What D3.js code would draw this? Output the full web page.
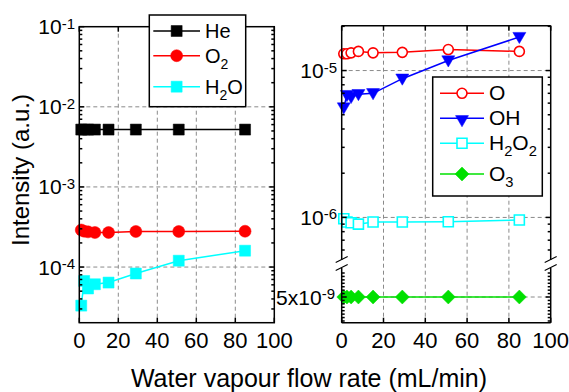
<!DOCTYPE html>
<html>
<head>
<meta charset="utf-8">
<script src="https://cdn.jsdelivr.net/npm/d3@7/dist/d3.min.js"></script>
<style>
  body { margin: 0; background: #fff; }
  svg { display: block; font-family: "Liberation Sans", Arial, sans-serif; }
</style>
</head>
<body>
<svg id="chart" width="569" height="392"></svg>
<script>
// flow rates shared by every series (mL/min)
const flowRate = [1, 2.5, 4.5, 8, 15, 29, 51, 85];

// left panel
const heVals  = [5.2e-3, 5.2e-3, 5.2e-3, 5.2e-3, 5.2e-3, 5.2e-3, 5.2e-3, 5.2e-3];
const o2Vals  = [2.9e-4, 2.8e-4, 2.75e-4, 2.7e-4, 2.7e-4, 2.78e-4, 2.78e-4, 2.8e-4];
const h2oVals = [3.3e-5, 6.7e-5, 5.4e-5, 6.1e-5, 6.4e-5, 8.3e-5, 1.2e-4, 1.6e-4];

// right panel
const oVals    = [1.3e-5, 1.3e-5, 1.32e-5, 1.35e-5, 1.32e-5, 1.33e-5, 1.39e-5, 1.35e-5];
const ohVals   = [5.6e-6, 6.8e-6, 6.6e-6, 6.9e-6, 7.0e-6, 8.8e-6, 1.17e-5, 1.69e-5];
const h2o2Vals = [0.98e-6, 0.93e-6, 0.92e-6, 0.9e-6, 0.93e-6, 0.93e-6, 0.935e-6, 0.96e-6];
const o3Vals   = [5e-9, 5e-9, 5e-9, 5e-9, 5e-9, 5e-9, 5e-9, 5e-9];

const xTicks = [0, 20, 40, 60, 80, 100];
const leftDecades = [-4, -3, -2, -1];
const rightDecades = [-6, -5];

var svg = d3.select("#chart");

//scales
var xLeft = d3.scaleLinear().domain([0, 100]).range([79.3, 274.3]);
var xRight = d3.scaleLinear().domain([0, 100]).range([341.7, 550.7]);
var yLeft = d3.scaleLog().domain([2.02e-5, 0.1]).range([322.7, 26.7]);
var yUp = d3.scaleLog().domain([5.13e-7, 2.02e-5]).range([260, 25.7]);
var yLow = d3.scaleLinear().domain([3.5e-9, 6.5e-9]).range([322.7, 271.3]);

const gridColor = "#8a8a8a";

// marker paths centered at 0,0
function markerPath(shape, s) {
	var h = s / 2;
	if (shape === "square") return `M${-h},${-h}h${s}v${s}h${-s}Z`;
	if (shape === "circle") return `M${h},0A${h},${h} 0 1,1 ${-h},0A${h},${h} 0 1,1 ${h},0Z`;
	if (shape === "tri") return `M${-h},${-s * 0.36}L${h},${-s * 0.36}L0,${s * 0.5}Z`;
	if (shape === "diamond") return `M0,${-h}L${h},0L0,${h}L${-h},0Z`;
}

function drawMarker(g, shape, size, color, filled, x, y) {
	g.append("path")
		.attr("d", markerPath(shape, size))
		.attr("transform", `translate(${x},${y})`)
		.attr("fill", filled ? color : "#fff")
		.attr("stroke", color)
		.attr("stroke-width", filled ? 0.5 : 1.6);
}

// "10" with superscript exponent
function powLabel(g, x, y, base, exp, size, supSize) {
	var t = g.append("text")
		.attr("x", x).attr("y", y)
		.attr("text-anchor", "end")
		.attr("font-size", size)
		.attr("fill", "#000");
	t.append("tspan").text(base);
	t.append("tspan").attr("font-size", supSize).attr("dy", -5.5).text(exp);
	return t;
}

function drawSeries(g, xs, ys, vals, s) {
	var line = d3.line().x((d, i) => xs(flowRate[i])).y((d) => ys(d));
	g.append("path")
		.attr("d", line(vals))
		.attr("fill", "none")
		.attr("stroke", s.color)
		.attr("stroke-width", 1.5);
	vals.forEach((v, i) => drawMarker(g, s.shape, s.size, s.color, s.filled, xs(flowRate[i]), ys(v)));
}

// ---------- grid ----------
var grid = svg.append("g").attr("stroke", gridColor).attr("stroke-dasharray", "4,3").attr("stroke-width", 1);
[20, 40, 60, 80].forEach((v) => {
	grid.append("line").attr("x1", xLeft(v)).attr("x2", xLeft(v)).attr("y1", 26.7).attr("y2", 322.7);
	grid.append("line").attr("x1", xRight(v)).attr("x2", xRight(v)).attr("y1", 25.7).attr("y2", 322.7);
});
[-4, -3, -2].forEach((e) => {
	var y = yLeft(Math.pow(10, e));
	grid.append("line").attr("x1", xLeft(0)).attr("x2", xLeft(100)).attr("y1", y).attr("y2", y);
});
rightDecades.forEach((e) => {
	var y = yUp(Math.pow(10, e));
	grid.append("line").attr("x1", xRight(0)).attr("x2", xRight(100)).attr("y1", y).attr("y2", y);
});
grid.append("line").attr("x1", xRight(0)).attr("x2", xRight(100)).attr("y1", yLow(5e-9)).attr("y2", yLow(5e-9));

// ---------- data ----------
var plot = svg.append("g");
drawSeries(plot, xLeft, yLeft, heVals, { color: "#000", shape: "square", size: 11, filled: true });
drawSeries(plot, xLeft, yLeft, o2Vals, { color: "#ff0000", shape: "circle", size: 12, filled: true });
drawSeries(plot, xLeft, yLeft, h2oVals, { color: "#00ffff", shape: "square", size: 11, filled: true });

drawSeries(plot, xRight, yUp, oVals, { color: "#ff0000", shape: "circle", size: 10, filled: false });
drawSeries(plot, xRight, yUp, ohVals, { color: "#0000ff", shape: "tri", size: 13, filled: true });
drawSeries(plot, xRight, yUp, h2o2Vals, { color: "#00ffff", shape: "square", size: 10, filled: false });
drawSeries(plot, xRight, yLow, o3Vals, { color: "#00e000", shape: "diamond", size: 14, filled: true });

// ---------- axes / frames ----------
var ax = svg.append("g").attr("stroke", "#000").attr("stroke-width", 1.5).attr("fill", "none");

// left frame
ax.append("rect").attr("x", xLeft(0)).attr("y", 26.7).attr("width", xLeft(100) - xLeft(0)).attr("height", 322.7 - 26.7);

// left log ticks (inward, both sides)
leftDecades.forEach((e) => {
	for (let m = 1; m <= 9; m++) {
		var v = m * Math.pow(10, e - 1);
		if (v < 2.02e-5 || v > 0.1) continue;
		var y = yLeft(v), len = m === 1 ? 5 : 3;
		ax.append("line").attr("x1", xLeft(0)).attr("x2", xLeft(0) + len).attr("y1", y).attr("y2", y);
		ax.append("line").attr("x1", xLeft(100)).attr("x2", xLeft(100) - len).attr("y1", y).attr("y2", y);
	}
});
ax.append("line").attr("x1", xLeft(0)).attr("x2", xLeft(0) + 5).attr("y1", yLeft(0.1)).attr("y2", yLeft(0.1));

// x ticks for both panels
[[xLeft, 26.7], [xRight, 25.7]].forEach(([xs, top]) => {
	xTicks.forEach((v) => {
		ax.append("line").attr("x1", xs(v)).attr("x2", xs(v)).attr("y1", 322.7).attr("y2", 317.7);
		ax.append("line").attr("x1", xs(v)).attr("x2", xs(v)).attr("y1", top).attr("y2", top + 5);
	});
});

// right frame: top, bottom and the broken verticals
ax.append("line").attr("x1", xRight(0)).attr("x2", xRight(100)).attr("y1", 25.7).attr("y2", 25.7);
ax.append("line").attr("x1", xRight(0)).attr("x2", xRight(100)).attr("y1", 322.7).attr("y2", 322.7);
[xRight(0), xRight(100)].forEach((x) => {
	ax.append("line").attr("x1", x).attr("x2", x).attr("y1", 25.7).attr("y2", 260);
	ax.append("line").attr("x1", x).attr("x2", x).attr("y1", 268).attr("y2", 322.7);
	// break marks
	ax.append("line").attr("x1", x - 6).attr("x2", x + 6).attr("y1", 262.5).attr("y2", 256.5).attr("stroke-width", 1.2);
	ax.append("line").attr("x1", x - 6).attr("x2", x + 6).attr("y1", 270.5).attr("y2", 264.5).attr("stroke-width", 1.2);
});

// right upper log ticks
[-7, -6, -5].forEach((e) => {
	for (let m = 1; m <= 9; m++) {
		var v = m * Math.pow(10, e);
		if (v < 5.3e-7 || v > 2.02e-5) continue;
		var y = yUp(v), len = m === 1 ? 5 : 3;
		ax.append("line").attr("x1", xRight(0)).attr("x2", xRight(0) + len).attr("y1", y).attr("y2", y);
		ax.append("line").attr("x1", xRight(100)).attr("x2", xRight(100) - len).attr("y1", y).attr("y2", y);
	}
});
// right lower linear ticks
d3.range(36, 65, 2).forEach((k) => {
	var v = k * 1e-10, y = yLow(v), len = k === 50 ? 5 : 3;
	ax.append("line").attr("x1", xRight(0)).attr("x2", xRight(0) + len).attr("y1", y).attr("y2", y);
	ax.append("line").attr("x1", xRight(100)).attr("x2", xRight(100) - len).attr("y1", y).attr("y2", y);
});

// ---------- tick labels ----------
var lab = svg.append("g");
[[xLeft], [xRight]].forEach(([xs]) => {
	xTicks.forEach((v) => {
		lab.append("text")
			.attr("x", xs(v)).attr("y", 348)
			.attr("text-anchor", "middle")
			.attr("font-size", 22)
			.text(v);
	});
});
leftDecades.forEach((e) => {
	powLabel(lab, 75, yLeft(Math.pow(10, e)) + 7.5, "10", String(e), 21, 15);
});
rightDecades.forEach((e) => {
	powLabel(lab, 337, yUp(Math.pow(10, e)) + 7.5, "10", String(e), 21, 15);
});
powLabel(lab, 335, yLow(5e-9) + 7.5, "5x10", "-9", 21, 15);

// axis titles
svg.append("text")
	.attr("x", 309).attr("y", 387)
	.attr("text-anchor", "middle")
	.attr("font-size", 25)
	.text("Water vapour flow rate (mL/min)");
svg.append("text")
	.attr("transform", "translate(29,170) rotate(-90)")
	.attr("text-anchor", "middle")
	.attr("font-size", 24)
	.text("Intensity (a.u.)");

// ---------- legends ----------
function legend(box, rows, lineX, fontSize) {
	var g = svg.append("g");
	g.append("rect")
		.attr("x", box.x).attr("y", box.y).attr("width", box.w).attr("height", box.h)
		.attr("fill", "#fff").attr("stroke", "#000").attr("stroke-width", 1.5);
	rows.forEach((r) => {
		g.append("line")
			.attr("x1", lineX[0]).attr("x2", lineX[1]).attr("y1", r.y).attr("y2", r.y)
			.attr("stroke", r.color).attr("stroke-width", 1.5);
		drawMarker(g, r.shape, r.size, r.color, r.filled, (lineX[0] + lineX[1]) / 2, r.y + (r.dy || 0));
		var t = g.append("text")
			.attr("x", lineX[1] + 5).attr("y", r.y + 7)
			.attr("font-size", fontSize);
		r.parts.forEach((p) => {
			if (p.sub) {
				t.append("tspan").attr("font-size", fontSize * 0.7).attr("dy", 6).text(p.t);
			} else {
				t.append("tspan").attr("dy", p.after ? -6 : 0).text(p.t);
			}
		});
	});
}

legend({ x: 149.3, y: 15, w: 96.4, h: 91.7 }, [
	{ y: 31, color: "#000", shape: "square", size: 11, filled: true, parts: [{ t: "He" }] },
	{ y: 55.7, color: "#ff0000", shape: "circle", size: 12, filled: true, parts: [{ t: "O" }, { t: "2", sub: true }] },
	{ y: 86.7, color: "#00ffff", shape: "square", size: 11, filled: true, parts: [{ t: "H" }, { t: "2", sub: true }, { t: "O", after: true }] },
], [153.3, 200], 20);

legend({ x: 432.7, y: 77, w: 109.6, h: 119 }, [
	{ y: 93.3, color: "#ff0000", shape: "circle", size: 10, filled: false, parts: [{ t: "O" }] },
	{ y: 118.3, dy: 2, color: "#0000ff", shape: "tri", size: 13, filled: true, parts: [{ t: "OH" }] },
	{ y: 143.3, color: "#00ffff", shape: "square", size: 10, filled: false, parts: [{ t: "H" }, { t: "2", sub: true }, { t: "O", after: true }, { t: "2", sub: true }] },
	{ y: 174, color: "#00e000", shape: "diamond", size: 14, filled: true, parts: [{ t: "O" }, { t: "3", sub: true }] },
], [440, 484], 21);
</script>
</body>
</html>
